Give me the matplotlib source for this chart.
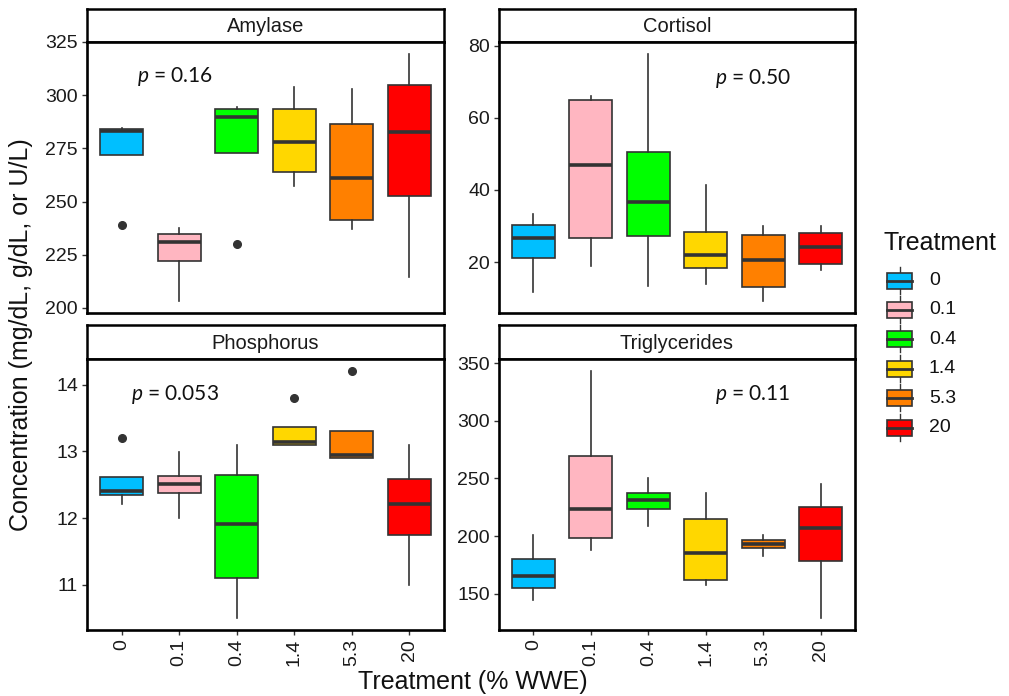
import numpy as np
import matplotlib
matplotlib.use("Agg")
import matplotlib.pyplot as plt
from matplotlib.patches import Rectangle

plt.rcParams['font.family'] = ['Liberation Sans', 'DejaVu Sans']
plt.rcParams['mathtext.fontset'] = 'custom'
plt.rcParams['mathtext.it'] = 'Lato:italic'
plt.rcParams['mathtext.rm'] = 'Lato'

treatments = ["0", "0.1", "0.4", "1.4", "5.3", "20"]
colors = ["#00BFFF", "#FFB6C1", "#00FF00", "#FFD700", "#FF8000", "#FF0000"]

# box stats per treatment: lower whisker, Q1, median, Q3, upper whisker, outliers
amy_lo = [271.7, 203.4, 272.8, 257.2, 237.3, 214.3]
amy_q1 = [271.7, 221.9, 272.8, 263.8, 241.2, 252.7]
amy_med = [283.3, 230.9, 289.9, 278.0, 261.3, 282.7]
amy_q3 = [284.2, 234.8, 293.6, 293.6, 286.3, 304.8]
amy_hi = [284.8, 237.8, 294.4, 303.8, 302.9, 319.2]
amy_out = [[239.1], [], [230.0], [], [], []]

cor_lo = [11.8, 18.8, 13.5, 13.8, 9.3, 17.7]
cor_q1 = [21.2, 26.6, 27.1, 18.4, 13.1, 19.4]
cor_med = [26.8, 47.0, 36.7, 22.0, 20.6, 24.1]
cor_q3 = [30.2, 64.9, 50.6, 28.4, 27.6, 28.0]
cor_hi = [33.3, 66.1, 77.6, 41.4, 29.9, 29.9]
cor_out = [[], [], [], [], [], []]

pho_lo = [12.21, 12.01, 10.51, 13.10, 12.90, 11.00]
pho_q1 = [12.35, 12.38, 11.11, 13.10, 12.90, 11.75]
pho_med = [12.40, 12.51, 11.91, 13.14, 12.94, 12.21]
pho_q3 = [12.61, 12.63, 12.65, 13.36, 13.31, 12.58]
pho_hi = [12.61, 12.99, 13.09, 13.36, 13.31, 13.09]
pho_out = [[13.20], [], [], [13.80], [14.20], []]

tri_lo = [144.2, 188.2, 209.0, 157.2, 183.0, 129.2]
tri_q1 = [154.9, 198.3, 223.7, 161.8, 189.6, 178.6]
tri_med = [165.6, 223.7, 231.2, 185.5, 192.8, 207.2]
tri_q3 = [179.8, 269.7, 237.3, 214.7, 196.8, 224.9]
tri_hi = [200.6, 342.8, 250.0, 237.0, 200.6, 244.8]
tri_out = [[], [], [], [], [], []]

panel_names = ["Amylase", "Cortisol", "Phosphorus", "Triglycerides"]
p_labels = ["0.16", "0.50", "0.053", "0.11"]
p_pos = [(0.26, 308.7), (3.17, 71.0), (0.16, 13.86), (3.17, 322.8)]
y_ticks = [[200, 225, 250, 275, 300, 325], [20, 40, 60, 80],
           [11, 12, 13, 14], [150, 200, 250, 300, 350]]
stats = [
    (amy_lo, amy_q1, amy_med, amy_q3, amy_hi, amy_out),
    (cor_lo, cor_q1, cor_med, cor_q3, cor_hi, cor_out),
    (pho_lo, pho_q1, pho_med, pho_q3, pho_hi, pho_out),
    (tri_lo, tri_q1, tri_med, tri_q3, tri_hi, tri_out),
]

W, H = 1009, 696
fig = plt.figure(figsize=(W / 100, H / 100), dpi=100)


def place(l, t, r, b):
    return fig.add_axes([l / W, 1 - b / H, (r - l) / W, (b - t) / H])


cols = [(87, 444), (499, 855)]
rows = [(9, 42, 313), (325, 359, 630)]
ink = "#333333"

for k, name in enumerate(panel_names):
    l, r = cols[k % 2]
    st, pt, pb = rows[k // 2]

    # strip
    sax = place(l, st, r, pt)
    sax.set_xticks([])
    sax.set_yticks([])
    for s in sax.spines.values():
        s.set_linewidth(1.8)
    sax.text(0.5, 0.47, name, ha='center', va='center', fontsize=14.5,
             color="#1a1a1a", transform=sax.transAxes)

    ax = place(l, pt, r, pb)
    lo, q1, med, q3, hi, out = stats[k]
    bstats = []
    for i in range(len(treatments)):
        bstats.append(dict(whislo=lo[i], q1=q1[i], med=med[i], q3=q3[i],
                           whishi=hi[i], fliers=out[i]))
    pos = np.arange(len(treatments))
    bp = ax.bxp(bstats, positions=pos, widths=0.75, patch_artist=True,
                showcaps=False,
                boxprops=dict(edgecolor=ink, linewidth=1.2),
                medianprops=dict(color=ink, linewidth=2.6, solid_capstyle='butt'),
                whiskerprops=dict(color=ink, linewidth=1.2),
                flierprops=dict(marker='o', markerfacecolor=ink,
                                markeredgecolor=ink, markersize=5.5))
    for patch, c in zip(bp['boxes'], colors):
        patch.set_facecolor(c)

    vals = np.concatenate([lo, hi] + [np.array(o, dtype=float) for o in out])
    vmin, vmax = vals.min(), vals.max()
    pad = (vmax - vmin) * 0.05
    ax.set_ylim(vmin - pad, vmax + pad)
    ax.set_xlim(-0.6, len(treatments) - 0.4)
    ax.set_yticks(y_ticks[k])
    ax.set_xticks(pos)
    ax.set_xticklabels(treatments, rotation=90)
    for s in ax.spines.values():
        s.set_linewidth(1.9)
    ax.tick_params(axis='both', length=3.5, width=1.0, color=ink,
                   labelsize=14, labelcolor="#1a1a1a", pad=3)
    if k < 2:
        ax.tick_params(axis='x', bottom=False, labelbottom=False)

    px, py = p_pos[k]
    ax.text(px, py, r"$p$ = " + p_labels[k], ha='left', va='center',
            fontsize=15, family='Lato', color="#111111")

fig.text(21 / W, 1 - 335 / H, "Concentration (mg/dL, g/dL, or U/L)",
         rotation=90, ha='center', va='center', fontsize=18, color="#111111")
fig.text(473 / W, 1 - 682 / H, "Treatment (% WWE)", ha='center', va='center',
         fontsize=18, color="#111111")

# legend drawn in pixel space
lax = fig.add_axes([0, 0, 1, 1])
lax.set_xlim(0, W)
lax.set_ylim(H, 0)
lax.axis('off')
lax.text(884, 243, "Treatment", ha='left', va='center', fontsize=18, color="#111111")
for i, (lab, c) in enumerate(zip(treatments, colors)):
    yc = 280.5 + 29.4 * i
    lax.plot([899.5, 899.5], [yc - 14, yc + 13], color=ink, lw=1.0, zorder=1)
    lax.add_patch(Rectangle((887, yc - 8), 25, 16, facecolor=c, edgecolor=ink,
                            lw=1.2, zorder=2))
    lax.plot([887, 912], [yc, yc], color=ink, lw=2.0, zorder=3)
    lax.text(929, yc, lab, ha='left', va='center', fontsize=14, color="#111111")

fig.savefig("out.png", dpi=100)
